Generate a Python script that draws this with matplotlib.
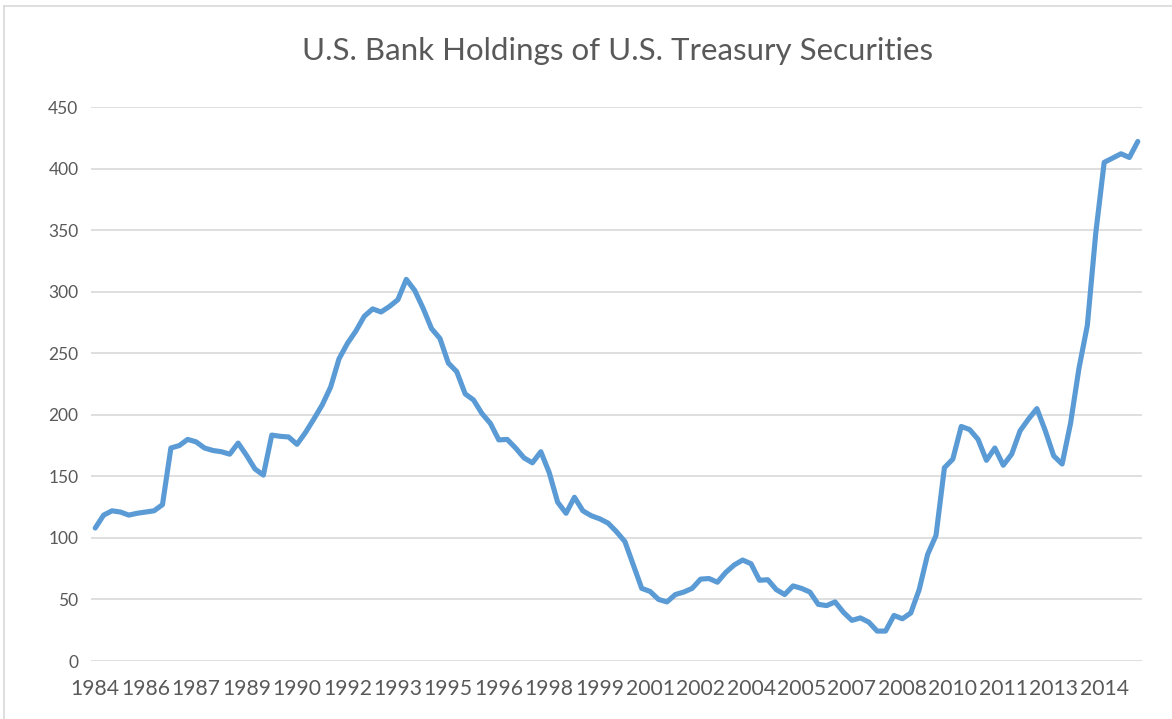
import numpy as np
import matplotlib
matplotlib.use('Agg')
import matplotlib.pyplot as plt
from matplotlib.lines import Line2D

# Tenencias trimestrales (1984T4 - 2015T4), miles de millones de dólares
holdings = [108, 118.5, 122, 121, 118.5, 120, 121, 122, 127, 173,
            175, 180, 178, 173, 171, 170, 168, 177, 167, 156,
            151, 183.5, 182.5, 182, 176, 185.5, 196.5, 208, 222.5, 245.5,
            258, 268, 280, 286, 283.5, 288, 293.5, 310, 301, 286.5,
            270, 262, 242, 235, 217, 212, 201, 193, 179.6, 180,
            173, 165, 161, 170, 153, 129, 120, 133, 122, 118,
            115.5, 112, 105, 97, 78, 59, 56.5, 50, 48, 54,
            56, 59, 66.5, 67, 64, 72, 78, 82, 79, 65.6,
            66, 58, 54, 61, 59, 56, 46, 45, 48, 39.5,
            33, 35, 31.6, 24.3, 24.3, 37, 34.3, 39, 58, 86.5,
            102, 157, 164, 190.5, 188, 180, 163, 173, 159, 168,
            187, 196.5, 205, 187, 166.6, 160, 193, 237.6, 272.7, 347.5,
            405, 408.5, 412, 409, 422]

tick_labels = ['1984', '1986', '1987', '1989', '1990', '1992', '1993', '1995',
               '1996', '1998', '1999', '2001', '2002', '2004', '2005', '2007',
               '2008', '2010', '2011', '2013', '2014']
y_ticks = [0, 50, 100, 150, 200, 250, 300, 350, 400, 450]

plt.rcParams['font.family'] = ['Lato', 'DejaVu Sans']
gris = '#595959'

fig = plt.figure(figsize=(11.72, 7.19), dpi=100)
ax = fig.add_axes([91/1172, 1 - 661/719, 1051/1172, 554/719])

x = np.arange(len(holdings))
ax.plot(x, holdings, color='#5B9BD5', linewidth=3.7,
        solid_joinstyle='round', solid_capstyle='round', zorder=3)

ax.set_xlim(-0.5, len(holdings) - 0.5)
ax.set_ylim(0, 450)
ax.set_yticks(y_ticks)
ax.set_xticks(np.arange(0, 6 * len(tick_labels), 6))
ax.set_xticklabels(tick_labels)
ax.tick_params(axis='x', length=0, labelsize=15.2, colors=gris, pad=13)
ax.tick_params(axis='y', length=0, labelsize=12.5, colors=gris, pad=9)
ax.grid(axis='y', color='#D9D9D9', linewidth=1.2)
ax.set_axisbelow(True)
for s in ax.spines.values():
    s.set_visible(False)

fig.text(0.527, 1 - 51/719, 'U.S. Bank Holdings of U.S. Treasury Securities',
         ha='center', va='center', fontsize=22.5, color=gris)

# Borde del área del gráfico
fig.add_artist(Line2D([3.5/1172, 3.5/1172], [0, 1 - 6/719], transform=fig.transFigure,
                      color='#D9D9D9', linewidth=1.2))
fig.add_artist(Line2D([3.5/1172, 1], [1 - 6/719, 1 - 6/719], transform=fig.transFigure,
                      color='#D9D9D9', linewidth=1.2))

fig.savefig('out.png', dpi=100)
